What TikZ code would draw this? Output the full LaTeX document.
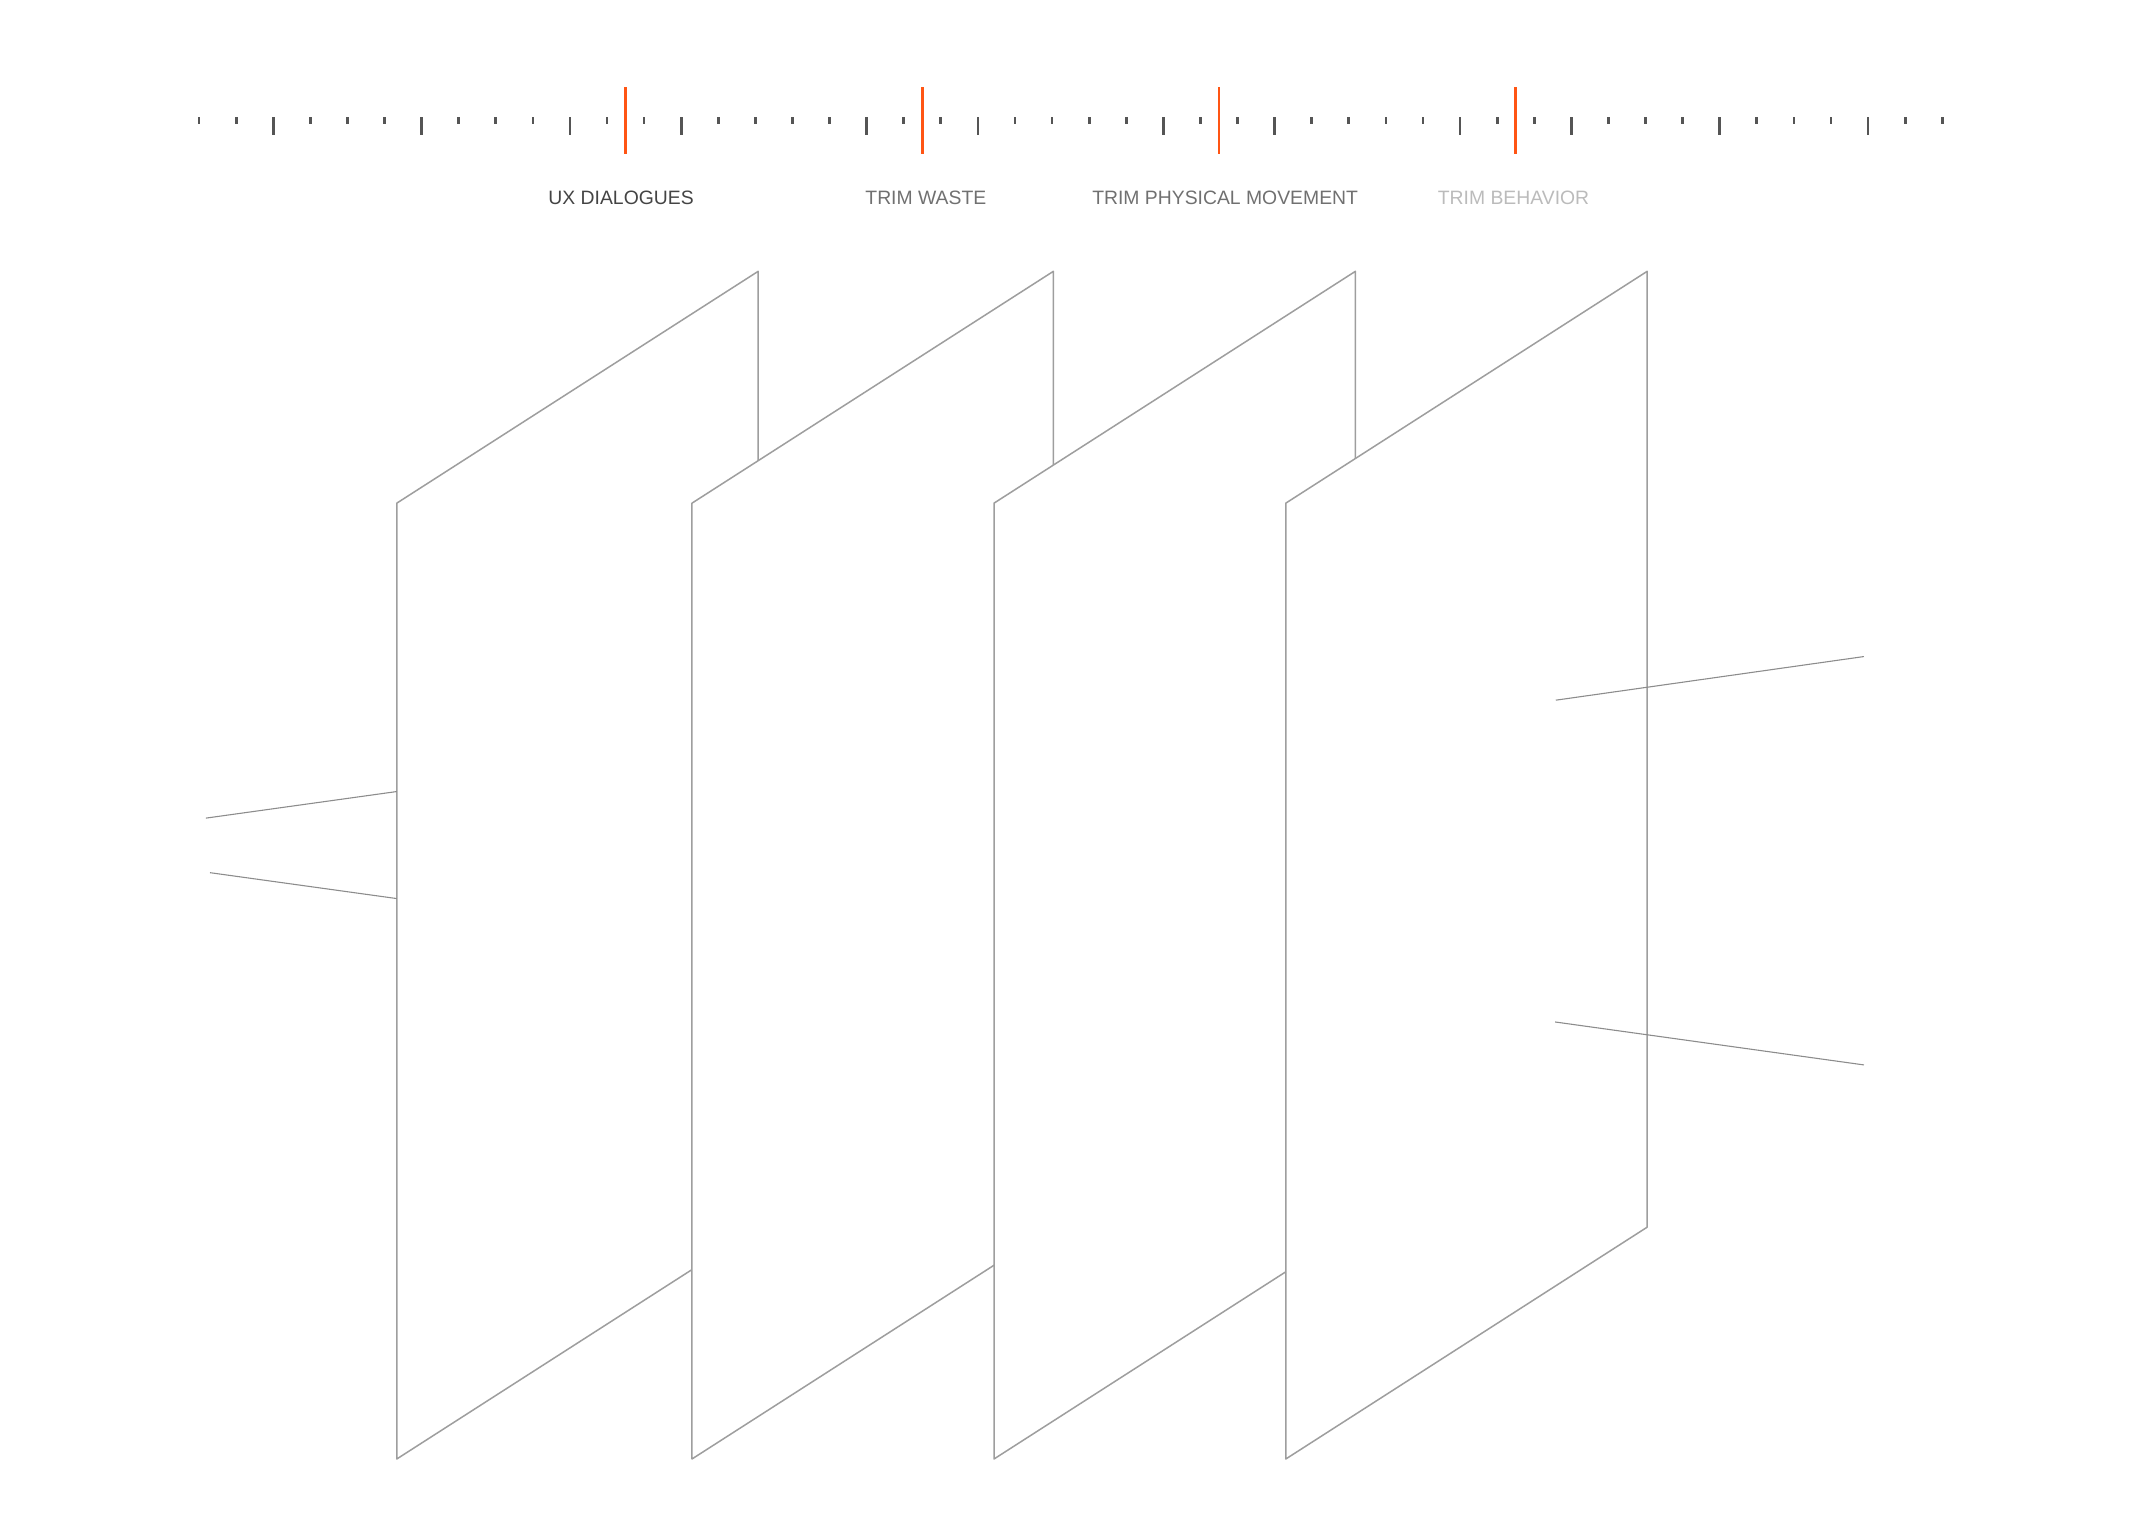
\documentclass[tikz,border=0pt]{standalone}
\usepackage{fontspec}
\setmainfont{Liberation Sans}
\usetikzlibrary{positioning}

\definecolor{tickgray}{HTML}{555555}
\definecolor{markorange}{HTML}{FF5514}
\definecolor{edgegray}{HTML}{9E9E9E}
\definecolor{wiregray}{HTML}{8C8C8C}
\definecolor{labdark}{HTML}{444444}
\definecolor{labmid}{HTML}{707070}
\definecolor{lablight}{HTML}{BBBBBB}

\tikzset{
  rulertick/.style={tickgray, line width=2pt},
  marker/.style={markorange, line width=2pt},
  plane/.style={draw=edgegray, fill=white, line width=1.1pt, line join=round},
  wire/.style={wiregray, line width=0.8pt},
  steplabel/.style={anchor=base, inner sep=0pt, font=\fontsize{14.2}{17}\selectfont},
}

\begin{document}
\begin{tikzpicture}[x=1pt, y=-1pt]
    \useasboundingbox (0,0) rectangle (1568,1109);

    % --- ruler ---
    \foreach \k in {0,...,47}
        \draw[rulertick] (146+27.2*\k,86) -- (146+27.2*\k,91);
    \foreach \k in {2,6,10,13,18,21,26,29,34,37,41,45}
        \draw[rulertick] (146+27.2*\k,86) -- (146+27.2*\k,99);
    % orange markers
    \foreach \k/\name in {11.5/m1,19.5/m2,27.5/m3,35.5/m4} {
        \coordinate (\name top) at (146+27.2*\k,64);
        \coordinate (\name) at (146+27.2*\k,113);
        \draw[marker] (\name top) -- (\name);
    }

    % --- labels ---
    \node[steplabel, text=labdark]  (ux)    at (455.5,150) {UX DIALOGUES};
    \node[steplabel, text=labmid]   (waste) at (679,150)   {TRIM WASTE};
    \node[steplabel, text=labmid]   (move)  at (898.5,150) {TRIM PHYSICAL MOVEMENT};
    \node[steplabel, text=lablight] (behav) at (1110,150)  {TRIM BEHAVIOR};

    % --- planes (back to front) ---
    \foreach \l [count=\i] in {291,507.5,729,943}
        \draw[plane] (\l,369) coordinate (p\i a) -- (\l+265,199) coordinate (p\i b)
            -- (\l+265,900) coordinate (p\i c) -- (\l,1070) coordinate (p\i d) -- cycle;

    % --- wires in ---
    \coordinate (inA)    at (151,600);
    \coordinate (inAhit) at (291,580.5);
    \coordinate (inB)    at (154,640);
    \coordinate (inBhit) at (291,659);
    \draw[wire] (inA) -- (inAhit);
    \draw[wire] (inB) -- (inBhit);

    % --- wires out ---
    \coordinate (outA)    at (1141,513.5);
    \coordinate (outAend) at (1367,481.5);
    \coordinate (outB)    at (1140.5,749.5);
    \coordinate (outBend) at (1367,781);
    \draw[wire] (outA) -- (outAend);
    \draw[wire] (outB) -- (outBend);
\end{tikzpicture}
\end{document}
